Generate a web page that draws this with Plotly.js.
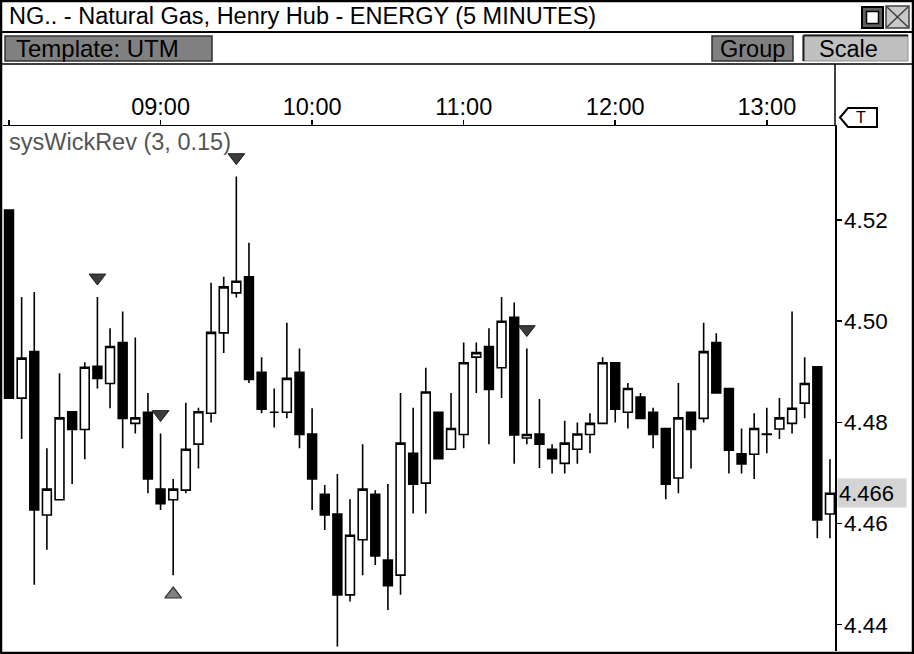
<!DOCTYPE html>
<html><head><meta charset="utf-8">
<script src="https://cdn.plot.ly/plotly-3.0.1.min.js"></script>
<style>html,body{margin:0;padding:0;background:#fff;overflow:hidden}#chart{width:914px;height:654px}</style>
</head><body><div id="chart"></div>
<script>
// ---------- data ----------
const day = "2024-01-02 ";
const times = ["08:00","08:05","08:10","08:15","08:20","08:25","08:30","08:35","08:40","08:45","08:50","08:55",
  "09:00","09:05","09:10","09:15","09:20","09:25","09:30","09:35","09:40","09:45","09:50","09:55",
  "10:00","10:05","10:10","10:15","10:20","10:25","10:30","10:35","10:40","10:45","10:50","10:55",
  "11:00","11:05","11:10","11:15","11:20","11:25","11:30","11:35","11:40","11:45","11:50","11:55",
  "12:00","12:05","12:10","12:15","12:20","12:25","12:30","12:35","12:40","12:45","12:50","12:55",
  "13:00","13:05","13:10","13:15","13:20","13:25"];
const open  = [4.5220,4.4848,4.4940,4.4617,4.4647,4.4821,4.4786,4.4911,4.4877,4.4958,4.4798,4.4820,
  4.4668,4.4647,4.4666,4.4757,4.4818,4.4977,4.5056,4.5088,4.4899,4.4820,4.4820,4.4899,
  4.4777,4.4658,4.4619,4.4459,4.4568,4.4658,4.4528,4.4498,4.4739,4.4680,4.4820,4.4747,
  4.4776,4.4929,4.4950,4.4908,4.5008,4.4769,4.4777,4.4747,4.4719,4.4747,4.4776,4.4798,
  4.4918,4.4820,4.4850,4.4820,4.4788,4.4690,4.4820,4.4808,4.4958,4.4867,4.4738,4.4737,
  4.4776,4.4787,4.4798,4.4838,4.4910,4.4619];
const high  = [4.5220,4.5048,4.5058,4.4749,4.4897,4.4821,4.4919,4.5048,4.4986,4.5019,4.4968,4.4858,
  4.4778,4.4688,4.4839,4.4829,4.5076,4.5088,4.5286,4.5155,4.4929,4.4867,4.4997,4.4946,
  4.4828,4.4676,4.4698,4.4648,4.4757,4.4666,4.4678,4.4858,4.4829,4.4908,4.4820,4.4858,
  4.4958,4.4958,4.4986,4.5048,4.5037,4.4946,4.4846,4.4757,4.4803,4.4800,4.4818,4.4929,
  4.4918,4.4878,4.4858,4.4829,4.4788,4.4878,4.4820,4.4997,4.4976,4.4867,4.4788,4.4818,
  4.4829,4.4848,4.5019,4.4929,4.4910,4.4727];
const low   = [4.4848,4.4767,4.4479,4.4548,4.4647,4.4678,4.4727,4.4867,4.4828,4.4749,4.4778,4.4660,
  4.4627,4.4498,4.4660,4.4709,4.4800,4.4937,4.5047,4.4878,4.4818,4.4790,4.4808,4.4749,
  4.4627,4.4587,4.4357,4.4446,4.4498,4.4518,4.4429,4.4459,4.4620,4.4620,4.4728,4.4747,
  4.4749,4.4858,4.4757,4.4848,4.4718,4.4757,4.4710,4.4699,4.4699,4.4718,4.4739,4.4798,
  4.4800,4.4788,4.4808,4.4749,4.4648,4.4660,4.4709,4.4800,4.4858,4.4699,4.4699,4.4688,
  4.4739,4.4767,4.4778,4.4808,4.4571,4.4571];
const close = [4.4848,4.4927,4.4627,4.4668,4.4809,4.4786,4.4909,4.4887,4.4950,4.4808,4.4809,4.4688,
  4.4639,4.4668,4.4747,4.4821,4.4978,4.5068,4.5079,4.4885,4.4826,4.4820,4.4887,4.4776,
  4.4688,4.4617,4.4459,4.4577,4.4668,4.4536,4.4477,4.4759,4.4678,4.4860,4.4728,4.4788,
  4.4918,4.4938,4.4865,4.5000,4.4775,4.4776,4.4757,4.4728,4.4759,4.4777,4.4798,4.4918,
  4.4826,4.4867,4.4808,4.4776,4.4678,4.4809,4.4786,4.4940,4.4858,4.4745,4.4718,4.4788,
  4.4777,4.4809,4.4828,4.4877,4.4607,4.4660];
const sellSignals = [7, 12, 18, 41];
const buySignals = [13];
const priceTicks = [4.44, 4.46, 4.48, 4.50, 4.52];
const priceTickLabels = ["4.44", "4.46", "4.48", "4.50", "4.52"];
const timeTicks = ["08:00", "09:00", "10:00", "11:00", "12:00", "13:00"];
const timeTickLabels = ["", "09:00", "10:00", "11:00", "12:00", "13:00"];
const titleText = "NG.. - Natural Gas, Henry Hub - ENERGY (5 MINUTES)";
const indicatorText = "sysWickRev (3, 0.15)";
const templateText = "Template: UTM";
const groupText = "Group";
const scaleText = "Scale";

// ---------- layout helpers (pixel -> paper) ----------
const PL = 3, PR = 835, PT = 126, PB = 651;
const fx = x => (x - PL) / (PR - PL);
const fy = y => (PB - y) / (PB - PT);
const FONT = "Liberation Sans, Arial, sans-serif";
const markOff = 0.0038;

function rect(x0, y0, x1, y1, fill, lc, lw) {
  return {type: 'rect', xref: 'paper', yref: 'paper', x0: fx(x0), x1: fx(x1), y0: fy(y1), y1: fy(y0),
    fillcolor: fill, line: {color: lc, width: lw}, layer: 'above'};
}
function line(x0, y0, x1, y1, lc, lw) {
  return {type: 'line', xref: 'paper', yref: 'paper', x0: fx(x0), x1: fx(x1), y0: fy(y0), y1: fy(y1),
    line: {color: lc, width: lw}, layer: 'above'};
}
function txt(x, y, s, opts) {
  return Object.assign({xref: 'paper', yref: 'paper', x: fx(x), y: fy(y), text: s, showarrow: false,
    xanchor: 'left', yanchor: 'middle', font: {family: FONT, size: 23.5, color: '#000'}}, opts || {});
}

const X = times.map(t => day + t);

const traces = [
  {type: 'candlestick', x: X, open: open, high: high, low: low, close: close,
   increasing: {line: {color: '#000', width: 1.6}, fillcolor: '#fff'},
   decreasing: {line: {color: '#000', width: 1.6}, fillcolor: '#000'},
   whiskerwidth: 0, hoverinfo: 'skip', showlegend: false},
  {type: 'scatter', mode: 'markers', x: sellSignals.map(i => X[i]), y: sellSignals.map(i => high[i] + markOff),
   marker: {symbol: 'triangle-down', size: 14.5, color: '#3c3c3c', line: {color: '#1a1a1a', width: 1}},
   hoverinfo: 'skip', showlegend: false},
  {type: 'scatter', mode: 'markers', x: buySignals.map(i => X[i]), y: buySignals.map(i => low[i] - markOff),
   marker: {symbol: 'triangle-up', size: 14.5, color: '#808080', line: {color: '#303030', width: 1.2}},
   hoverinfo: 'skip', showlegend: false}
];

const tagPath = 'M' + fx(840) + ',' + fy(117.5) + ' L' + fx(848) + ',' + fy(108) + ' L' + fx(877) + ',' + fy(108) +
  ' L' + fx(877) + ',' + fy(127) + ' L' + fx(848) + ',' + fy(127) + ' Z';

const shapes = [
  line(0, 32, 914, 32, '#000', 2),
  line(0, 64, 914, 64, '#000', 1.5),
  line(835, 64, 835, 126, '#000', 1.5),
  rect(5, 36, 212, 61, '#808080', '#303030', 1.5),
  rect(712, 36, 793, 61, '#808080', '#303030', 1.5),
  rect(803, 35, 908, 61, '#c0c0c0', '#909090', 1),
  line(803.5, 61, 803.5, 35.5, '#202020', 2),
  line(803.5, 35.5, 908, 35.5, '#202020', 2),
  rect(862, 7, 883, 28, '#606060', '#000', 2),
  rect(866.5, 11.5, 878.5, 23.5, '#fff', '#000', 1.5),
  rect(886, 6, 909, 28, '#c8c8c8', '#404040', 1.5),
  line(887, 7, 908, 27, '#404040', 1.5),
  line(908, 7, 887, 27, '#404040', 1.5),
  {type: 'path', xref: 'paper', yref: 'paper', path: tagPath, fillcolor: '#fff', line: {color: '#000', width: 2}, layer: 'above'},
  rect(1, 1, 913, 653, 'rgba(0,0,0,0)', '#000', 2.5)
];

const lastClose = close[close.length - 1];
const annotations = [
  txt(7, 16, titleText),
  txt(14, 49, templateText, {font: {family: FONT, size: 24, color: '#000'}}),
  txt(752, 49, groupText, {xanchor: 'center'}),
  txt(848, 48.5, scaleText, {xanchor: 'center'}),
  txt(861, 117.5, 'T', {xanchor: 'center', font: {family: FONT, size: 16, color: '#000'}}),
  txt(7, 142, indicatorText, {font: {family: FONT, size: 23.5, color: '#555555'}}),
  {xref: 'paper', yref: 'y', x: fx(836.5), y: lastClose, text: lastClose.toFixed(3), showarrow: false,
   xanchor: 'left', yanchor: 'middle', align: 'left', width: 66, height: 26, bgcolor: '#d4d4d4', borderpad: 1,
   font: {family: FONT, size: 22, color: '#000'}}
];

const layout = {
  width: 914, height: 654,
  margin: {l: PL, r: 914 - PR, t: PT, b: 654 - PB, pad: 0},
  paper_bgcolor: '#fff', plot_bgcolor: '#fff',
  showlegend: false, hovermode: false, dragmode: false,
  boxgap: 0.3, boxgroupgap: 0,
  xaxis: {type: 'date', side: 'top', range: [day + '07:57:37.5', day + '13:27:00'],
    tickmode: 'array', tickvals: timeTicks.map(t => day + t), ticktext: timeTickLabels,
    ticks: 'outside', ticklen: 5, tickwidth: 1.5, tickcolor: '#000',
    showline: true, linecolor: '#000', linewidth: 1.5, showgrid: false, zeroline: false,
    rangeslider: {visible: false}, fixedrange: true,
    tickfont: {family: FONT, size: 23.5, color: '#000'}, ticklabelstandoff: -5},
  yaxis: {side: 'right', range: [4.4348, 4.5386], tickmode: 'array', tickvals: priceTicks, ticktext: priceTickLabels,
    ticks: 'outside', ticklen: 5, tickwidth: 1.5, tickcolor: '#000',
    showline: true, linecolor: '#000', linewidth: 1.5, showgrid: false, zeroline: false, fixedrange: true,
    tickfont: {family: FONT, size: 22.5, color: '#000'}, ticklabelstandoff: -2},
  shapes: shapes,
  annotations: annotations
};

Plotly.newPlot('chart', traces, layout, {staticPlot: true, displayModeBar: false});
</script></body></html>
